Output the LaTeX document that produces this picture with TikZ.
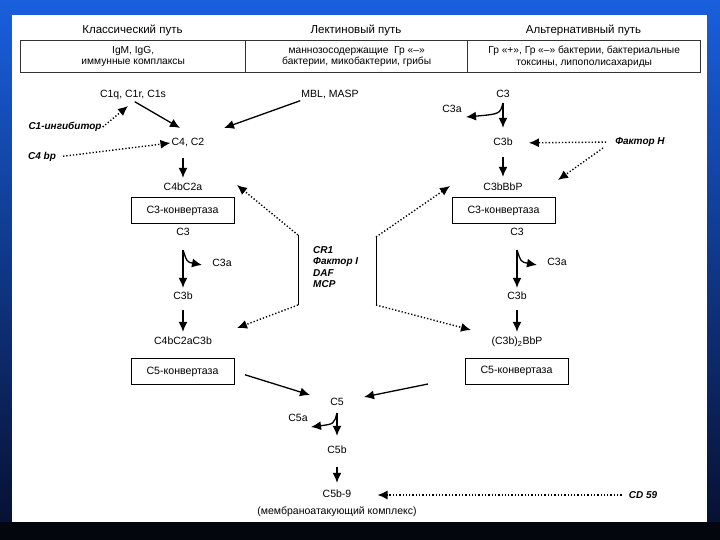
\documentclass[tikz,border=0pt]{standalone}
\usepackage{fontspec}
\setmainfont{Liberation Sans}
\usetikzlibrary{arrows.meta}
\definecolor{bgtop}{RGB}{25,95,222}
\definecolor{bgmid}{RGB}{16,66,185}
\definecolor{bgbot}{RGB}{6,14,45}
\definecolor{bgstrip}{RGB}{4,6,14}
\begin{document}
\begin{tikzpicture}[x=1pt,y=-1pt,
  lbl/.style={font=\fontsize{10.5}{12}\selectfont, inner sep=1pt, text height=7pt, text depth=2pt},
  bi/.style={font=\fontsize{10}{11.5}\selectfont\bfseries\itshape, inner sep=1pt},
  hdr/.style={font=\fontsize{11.5}{13}\selectfont},
  cell/.style={draw=black!80, line width=1.3pt, font=\fontsize{10.2}{11.5}\selectfont, align=center, minimum height=32pt, anchor=north west, inner sep=0pt},
  convbox/.style={draw, line width=1pt, minimum width=103pt, minimum height=26pt, font=\fontsize{10.6}{12}\selectfont, inner sep=0pt},
  arr/.style={line width=1.3pt, -{Latex[length=10pt,width=9pt]}},
  dotarr/.style={line width=1.4pt, dash pattern=on 1.3pt off 2pt, -{Latex[length=10pt,width=9pt]}},
  brace/.style={line width=0.9pt}
]
\useasboundingbox (0,0) rectangle (720,540);
% background
\shade[top color=bgtop, middle color=bgmid, bottom color=bgbot] (0,0) rectangle (720,540);
\fill[bgstrip] (0,522) rectangle (720,540);
\fill[white] (12,15) rectangle (707,522);

% headers
\node[hdr] (t1) at (132.5,30) {Классический путь};
\node[hdr] (t2) at (356,30) {Лектиновый путь};
\node[hdr] (t3) at (583.5,30) {Альтернативный путь};

% table
\node[cell, minimum width=225pt] (cellA) at (20,40) {IgM, IgG,\\иммунные комплаксы};
\node[cell, minimum width=222pt] (cellB) at (245,40) {маннозосодержащие\ \ Гр «–»\\бактерии, микобактерии, грибы};
\node[cell, minimum width=233pt] (cellC) at (467,40) {Гр «+», Гр «–» бактерии, бактериальные\\токсины, липополисахариды};

% left (classical / lectin)
\node[lbl] (c1) at (133,95) {C1q, C1r, C1s};
\node[bi] (c1inh) at (65,127) {C1-ингибитор};
\node[lbl] (mbl) at (330,95) {MBL, MASP};
\node[lbl] (c42) at (188,143) {C4, C2};
\node[bi] (c4bp) at (42,157) {C4 bp};
\node[lbl] (c4b2a) at (183,188) {C4bC2a};
\node[convbox] (c3convL) at (182.5,211) {C3-конвертаза};
\node[lbl] (c3L) at (183,233) {C3};
\node[lbl] (c3aL) at (222,264) {C3a};
\node[lbl] (c3bL) at (183,297) {C3b};
\node[lbl] (c4b2a3b) at (183,342) {C4bC2aC3b};
\node[convbox] (c5convL) at (182.5,371.5) {C5-конвертаза};

% regulators
\node[bi, align=left, anchor=west, font=\fontsize{10}{11.3}\selectfont\bfseries\itshape] (reg) at (312,267) {CR1\\Фактор I\\DAF\\MCP};

% right (alternative)
\node[lbl] (c3R) at (503,95) {C3};
\node[lbl] (c3aR) at (452,110) {C3a};
\node[lbl] (c3bR) at (503,143) {C3b};
\node[bi] (fh) at (640,142) {Фактор H};
\node[lbl] (c3bbbp) at (503,188) {C3bBbP};
\node[convbox] (c3convR) at (503.5,211) {C3-конвертаза};
\node[lbl] (c3R2) at (517,233) {C3};
\node[lbl] (c3aR2) at (557,263) {C3a};
\node[lbl] (c3bR2) at (517,297) {C3b};
\node[lbl] (c3b2) at (517,342) {(C3b)\textsubscript{2}BbP};
\node[convbox] (c5convR) at (516.5,371) {C5-конвертаза};

% terminal
\node[lbl] (c5) at (337,403) {C5};
\node[lbl] (c5a) at (298,419) {C5a};
\node[lbl] (c5b) at (337,451) {C5b};
\node[lbl] (mac) at (337,495) {C5b-9};
\node[lbl] (macl) at (337,512) {(мембраноатакующий комплекс)};
\node[bi] (cd59) at (643,495) {CD 59};

% coordinates
\coordinate (c1tip) at (128,106);
\coordinate (c42inL) at (180,128);
\coordinate (c42inR) at (224,128);
\coordinate (s42) at (183,158);
\coordinate (sL) at (183,250);
\coordinate (c3aLtip) at (202,265);
\coordinate (sR1) at (503,103);
\coordinate (c3aRtip) at (466,117);
\coordinate (sR2) at (517,250);
\coordinate (c3aR2tip) at (537,265);
\coordinate (s5) at (337,413);
\coordinate (c5atip) at (311,427);
\coordinate (bLt) at (298,235);
\coordinate (bLb) at (298,305);
\coordinate (bRt) at (376,237);
\coordinate (bRb) at (376,305);
\coordinate (tipA) at (237,185);
\coordinate (tipB) at (237,328);
\coordinate (tipC) at (450,186);
\coordinate (tipD) at (471,330);
\coordinate (fhs) at (603,148);
\coordinate (tipH) at (558,180);
\coordinate (c5inL) at (310,395);
\coordinate (c5Rs) at (428,384);
\coordinate (c5inR) at (364,397);

% classical / lectin connectors
\draw[dotarr] (c1inh.east) -- (c1tip);
\draw[arr, shorten <=2pt] (c1.south) -- (c42inL);
\draw[arr] (mbl.south west) -- (c42inR);
\draw[dotarr, shorten <=6pt] (c4bp.east) -- (c42.west);
\draw[arr, shorten >=4.5pt] (s42) -- (c4b2a);
\draw[arr, shorten >=3.5pt] (sL) -- (c3bL);
\draw[arr] (sL) .. controls (187,262) .. (c3aLtip);
\draw[arr, shorten <=7.5pt, shorten >=4.5pt] (c3bL) -- (c4b2a3b);

% regulators
\draw[brace] (bLt) -- (bLb);
\draw[dotarr] (bLt) -- (tipA);
\draw[dotarr] (bLb) -- (tipB);
\draw[brace] (bRt) -- (bRb);
\draw[dotarr] (bRt) -- (tipC);
\draw[dotarr] (bRb) -- (tipD);

% alternative connectors
\draw[arr, shorten >=9.5pt] (sR1) -- (c3bR);
\draw[arr] (sR1) .. controls (500,114) .. (c3aRtip);
\draw[dotarr, shorten <=8pt, shorten >=15pt] (fh.west) -- (c3bR.east);
\draw[dotarr] (fhs) -- (tipH);
\draw[arr, shorten <=8.5pt, shorten >=5.5pt] (c3bR) -- (c3bbbp);
\draw[arr, shorten >=3.5pt] (sR2) -- (c3bR2);
\draw[arr] (sR2) .. controls (521,262) .. (c3aR2tip);
\draw[arr, shorten <=7.5pt, shorten >=4.5pt] (c3bR2) -- (c3b2);

% terminal connectors
\draw[arr, shorten <=11pt] (c5convL.east) -- (c5inL);
\draw[arr] (c5Rs) -- (c5inR);
\draw[arr, shorten >=9.5pt] (s5) -- (c5b);
\draw[arr] (s5) .. controls (334,424) .. (c5atip);
\draw[arr, shorten <=10.5pt, shorten >=6.5pt] (c5b) -- (mac);
\draw[dotarr, shorten <=6pt, shorten >=25pt] (cd59.west) -- (mac.east);
\end{tikzpicture}
\end{document}
